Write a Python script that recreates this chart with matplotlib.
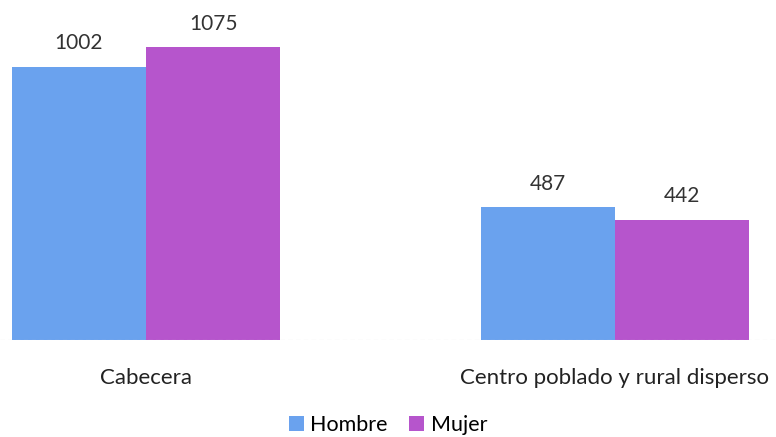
import matplotlib
matplotlib.use("Agg")
import matplotlib.pyplot as plt
import numpy as np

categories = ["Cabecera", "Centro poblado y rural disperso"]
series_names = ["Hombre", "Mujer"]
hombre = [1002, 487]
mujer = [1075, 442]
colors = ["#6aa2ee", "#b655cc"]

plt.rcParams['font.family'] = ['Lato', 'DejaVu Sans']

fig = plt.figure(figsize=(7.76, 4.37), dpi=100)
ax = fig.add_axes([0, 97/437, 1, 340/437])

x = np.arange(len(categories))
w = 0.286
b1 = ax.bar(x - w/2, hombre, w, color=colors[0], label=series_names[0])
b2 = ax.bar(x + w/2, mujer, w, color=colors[1], label=series_names[1])
for bars in (b1, b2):
    for r in bars:
        ax.text(r.get_x() + r.get_width()/2, r.get_height() + 50, f"{int(r.get_height())}",
                ha="center", va="bottom", fontsize=15, color="#333333")

ax.set_xlim(-146/469, (776-146)/469)
ax.set_ylim(0, 1248)
for s in ax.spines.values():
    s.set_visible(False)
ax.axhline(0, color="#cccccc", lw=0.8, ls=(0, (4, 3)))
ax.set_yticks([])
ax.set_xticks(x)
ax.set_xticklabels(categories, fontsize=16, color="#222222")
ax.tick_params(axis="x", length=0, pad=20)

fig.legend(handles=[b1, b2], labels=series_names, loc="center", bbox_to_anchor=(388/776, 1 - 425/437),
           ncol=2, frameon=False, fontsize=15.5, handlelength=0.7, handleheight=0.7,
           handletextpad=0.3, columnspacing=1.0)

fig.savefig("out.png", dpi=100)
